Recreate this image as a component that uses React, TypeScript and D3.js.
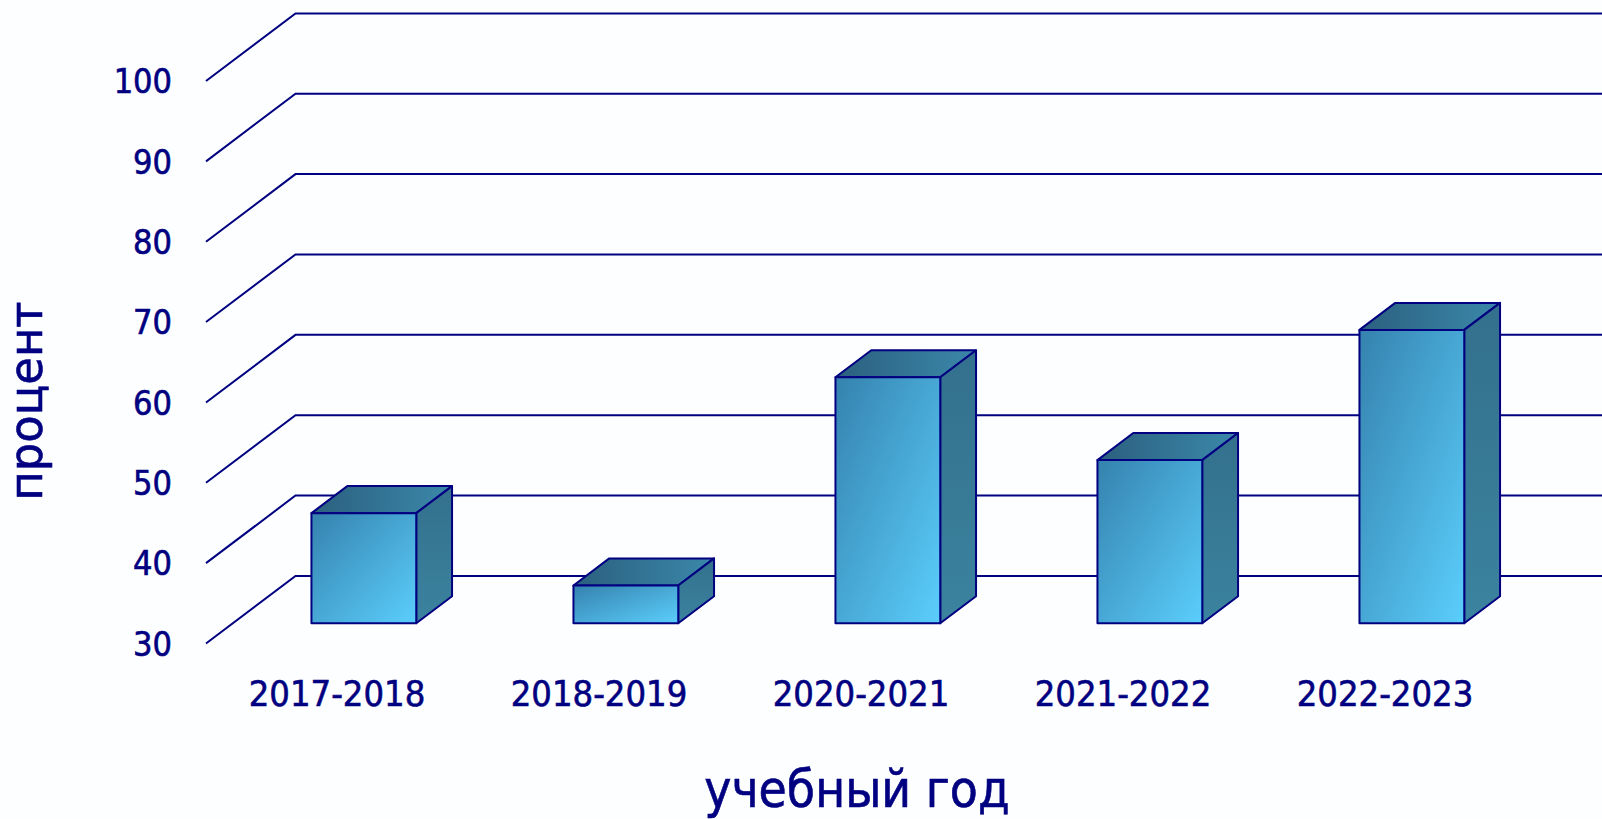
import React, { useEffect, useRef } from "react";
import * as d3 from "d3";

var categories = ["2017-2018", "2018-2019", "2020-2021", "2021-2022", "2022-2023"];
var values = [43.7, 34.7, 60.6, 50.3, 66.5];
var yTicks = [30, 40, 50, 60, 70, 80, 90, 100];
var xTitle = "учебный год";
var yTitle = "процент";

var FONT = "'DejaVu Sans Condensed', 'DejaVu Sans', sans-serif";
var NAVY = "#000080";

export default function App() {
  var ref = useRef<SVGSVGElement>(null);

  useEffect(() => {
    var width = 1602;
    var height = 819;
    var svg = d3.select(ref.current);
    svg.selectAll("*").remove();
    svg.attr("width", width).attr("height", height);

    // front plane of the 3d box + depth vector
    var x0 = 206;
    var x1 = 1516;
    var depthX = 89.5;
    var depthY = -67.6;
    var barFront = 0.3;
    var barDepth = 0.4;

    var yScale = d3.scaleLinear().domain([30, 100]).range([643.5, 81]);
    var xScale = d3
      .scaleBand()
      .domain(categories)
      .range([x0, x1])
      .paddingInner(0.6)
      .paddingOuter(0.3);

    var defs = svg.append("defs");
    var addGrad = (id, x2, y2, c0, c1) => {
      var g = defs
        .append("linearGradient")
        .attr("id", id)
        .attr("x1", 0)
        .attr("y1", 0)
        .attr("x2", x2)
        .attr("y2", y2);
      g.append("stop").attr("offset", "0%").attr("stop-color", c0);
      g.append("stop").attr("offset", "100%").attr("stop-color", c1);
    };
    addGrad("gFront", 1, 1, "#3582ae", "#5bcefc");
    addGrad("gTop", 1, 0, "#2b5f7f", "#3b88aa");
    addGrad("gSide", 0, 1, "#33708d", "#3b839f");

    svg
      .append("rect")
      .attr("width", width)
      .attr("height", height)
      .attr("fill", "#fcfeff");

    // gridlines: side wall diagonal + back wall horizontal
    var grid = svg.append("g").attr("stroke", NAVY).attr("stroke-width", 2).attr("fill", "none");
    yTicks.forEach(t => {
      var y = yScale(t);
      grid
        .append("path")
        .attr("d", "M" + x0 + "," + y + "L" + (x0 + depthX) + "," + (y + depthY) + "L" + width + "," + (y + depthY));
    });

    // bars
    var base = yScale.domain()[0];
    categories.forEach((c, i) => {
      var fx = xScale(c) + barFront * depthX;
      var fy = barFront * depthY;
      var w = xScale.bandwidth();
      var top = yScale(values[i]) + fy;
      var bot = yScale(base) + fy;
      var ddx = barDepth * depthX;
      var ddy = barDepth * depthY;
      var g = svg
        .append("g")
        .attr("stroke", NAVY)
        .attr("stroke-width", 2)
        .attr("stroke-linejoin", "round");
      g.append("path")
        .attr("d", d3.line()([[fx, top], [fx + ddx, top + ddy], [fx + w + ddx, top + ddy], [fx + w, top]]) + "Z")
        .attr("fill", "url(#gTop)");
      g.append("path")
        .attr("d", d3.line()([[fx + w, top], [fx + w + ddx, top + ddy], [fx + w + ddx, bot + ddy], [fx + w, bot]]) + "Z")
        .attr("fill", "url(#gSide)");
      g.append("rect")
        .attr("x", fx)
        .attr("y", top)
        .attr("width", w)
        .attr("height", bot - top)
        .attr("fill", "url(#gFront)");
    });

    var txt = svg
      .append("g")
      .attr("font-family", FONT)
      .attr("fill", NAVY)
      .attr("stroke", NAVY)
      .attr("stroke-width", 0.6);

    // tick labels
    txt
      .append("g")
      .selectAll("text")
      .data(yTicks)
      .enter()
      .append("text")
      .attr("x", 172)
      .attr("y", d => yScale(d))
      .attr("dy", "0.36em")
      .attr("text-anchor", "end")
      .attr("font-size", 34)
      .text(d => d);

    // category labels
    txt
      .append("g")
      .selectAll("text")
      .data(categories)
      .enter()
      .append("text")
      .attr("x", d => xScale(d) + xScale.bandwidth() / 2)
      .attr("y", 706)
      .attr("text-anchor", "middle")
      .attr("font-size", 36)
      .text(d => d);

    txt
      .append("text")
      .attr("x", 857)
      .attr("y", 807)
      .attr("text-anchor", "middle")
      .attr("font-size", 51)
      .text(xTitle);

    txt
      .append("text")
      .attr("transform", "translate(42,401) rotate(-90)")
      .attr("text-anchor", "middle")
      .attr("font-size", 47)
      .attr("textLength", 199)
      .attr("lengthAdjust", "spacingAndGlyphs")
      .text(yTitle);
  }, []);

  return (
    <div>
      <svg ref={ref} style={{ position: "absolute", left: 0, top: 0 }} />
    </div>
  );
}
